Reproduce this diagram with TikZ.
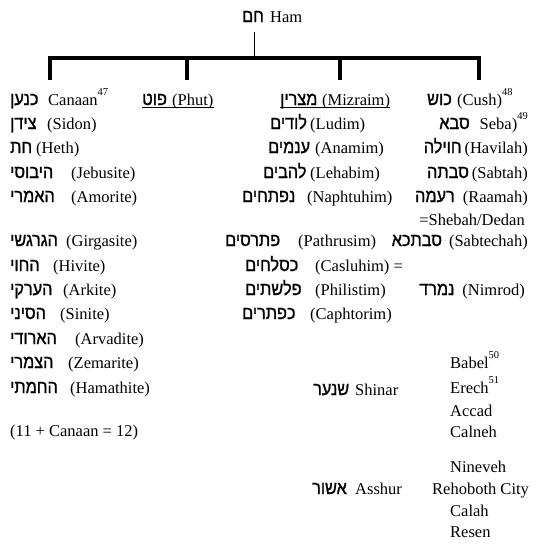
\documentclass[tikz,border=0pt]{standalone}
\usepackage{fontspec}
\setmainfont{Liberation Serif}
\newfontfamily\hebfont[Script=Hebrew,Scale=1.12,FakeStretch=0.88,FakeBold=1.2]{Liberation Sans}
\TeXXeTstate=1
\usepackage{tikz}
\usetikzlibrary{positioning,calc}
\newcommand{\heb}[1]{{\hebfont\beginR #1\endR}}
\newcommand{\hb}[2]{\makebox[#1][l]{\heb{#2}}}
\newcommand{\fn}[1]{\raisebox{9.5pt}{\fontsize{10.5}{11}\selectfont #1}}

\begin{document}
\begin{tikzpicture}[x=1pt,y=-1pt,
    entry/.style={anchor=base west, inner sep=0pt, font=\fontsize{16.5}{20}\selectfont},
    rentry/.style={entry, anchor=base east},
    famline/.style={line width=4.2pt, line join=miter},
    hamline/.style={line width=0.9pt},
    uline/.style={line width=1.1pt}]
  \useasboundingbox (0,0) rectangle (539,546);

  \node[entry] (ham) at (242,22) {\hb{28pt}{חם}Ham};

  \coordinate (bHam) at (254,58);
  \coordinate (dCanaan) at (50,80);
  \coordinate (dPhut) at (187,80);
  \coordinate (dMizraim) at (340,80);
  \coordinate (dCush) at (479,80);
  \draw[hamline, shorten <=10pt] (ham.south -| bHam) -- (bHam);
  \draw[famline] (dCanaan) |- (bHam) -| (dCush);
  \draw[famline] (dPhut) -- (dPhut |- bHam);
  \draw[famline] (dMizraim) -- (dMizraim |- bHam);

  % Canaan
  \node[entry] (canaan) at (10,105) {\hb{38pt}{כנען}Canaan\fn{47}};
  \node[entry] (sidon) at (10,129) {\hb{37pt}{צידן}(Sidon)};
  \node[entry] (heth) at (10,153) {\hb{26pt}{חת}(Heth)};
  \node[entry] (jebusite) at (10,178) {\hb{61pt}{היבוסי}(Jebusite)};
  \node[entry] (amorite) at (10,202) {\hb{61pt}{האמרי}(Amorite)};
  \node[entry] (girgasite) at (10,246) {\hb{56pt}{הגרגשי}(Girgasite)};
  \node[entry] (hivite) at (10,271) {\hb{43pt}{החוי}(Hivite)};
  \node[entry] (arkite) at (10,295) {\hb{53pt}{הערקי}(Arkite)};
  \node[entry] (sinite) at (10,319) {\hb{50pt}{הסיני}(Sinite)};
  \node[entry] (arvadite) at (10,344) {\hb{65pt}{הארודי}(Arvadite)};
  \node[entry] (zemarite) at (10,368) {\hb{58pt}{הצמרי}(Zemarite)};
  \node[entry] (hamathite) at (10,393) {\hb{60pt}{החמתי}(Hamathite)};
  \node[entry] (total) at (10,436) {(11 + Canaan = 12)};

  % Phut
  \node[entry] (phut) at (142,105) {\hb{30pt}{פוט}(Phut)};
  \draw[uline] ([yshift=-2.5pt]phut.base west) -- ([yshift=-2.5pt]phut.base east);

  % Mizraim
  \node[entry] (mizraim) at (280,105) {\hb{42pt}{מצרין}(Mizraim)};
  \draw[uline] ([yshift=-2.5pt]mizraim.base west) -- ([yshift=-2.5pt]mizraim.base east);
  \node[entry] (ludim) at (270,129) {\hb{40pt}{לודים}(Ludim)};
  \node[entry] (anamim) at (268,153) {\hb{47pt}{ענמים}(Anamim)};
  \node[entry] (lehabim) at (263,178) {\hb{47pt}{להבים}(Lehabim)};
  \node[entry] (naphtuhim) at (242,202) {\hb{65pt}{נפתחים}(Naphtuhim)};
  \node[entry] (pathrusim) at (225,246) {\hb{73pt}{פתרסים}(Pathrusim)};
  \node[entry] (casluhim) at (245,271) {\hb{70pt}{כסלחים}(Casluhim) =};
  \node[entry] (philistim) at (245,295) {\hb{70pt}{פלשתים}(Philistim)};
  \node[entry] (caphtorim) at (242,319) {\hb{68pt}{כפתרים}(Caphtorim)};

  % Cush
  \node[entry] (cush) at (427,105) {\hb{30pt}{כוש}(Cush)\fn{48}};
  \node[rentry] (seba) at (528,129) {\heb{סבא}\hspace{10pt}Seba)\fn{49}};
  \node[rentry] (havilah) at (528,153) {\heb{חוילה}\hspace{3pt}(Havilah)};
  \node[rentry] (sabtah) at (528,178) {\heb{סבתה}\hspace{3pt}(Sabtah)};
  \node[rentry] (raamah) at (528,202) {\heb{רעמה}\hspace{8pt}(Raamah)};
  \node[rentry] (shebah) at (525,225) {=Shebah/Dedan};
  \node[rentry] (sabtechah) at (528,246) {\heb{סבתכא}\hspace{7pt}(Sabtechah)};
  \node[rentry] (nimrod) at (525,295) {\heb{נמרד}\hspace{8pt}(Nimrod)};

  % Shinar and Asshur
  \node[entry] (shinar) at (313,395) {\hb{42pt}{שנער}Shinar};
  \node[entry] (babel) at (450,368) {Babel\fn{50}};
  \node[entry] (erech) at (450,393) {Erech\fn{51}};
  \node[entry] (accad) at (450,416) {Accad};
  \node[entry] (calneh) at (450,437) {Calneh};
  \node[entry] (asshur) at (312,494) {\hb{43pt}{אשור}Asshur};
  \node[entry] (nineveh) at (450,472) {Nineveh};
  \node[entry] (rehoboth) at (432,494) {Rehoboth City};
  \node[entry] (calah) at (450,516) {Calah};
  \node[entry] (resen) at (450,537) {Resen};
\end{tikzpicture}
\end{document}
